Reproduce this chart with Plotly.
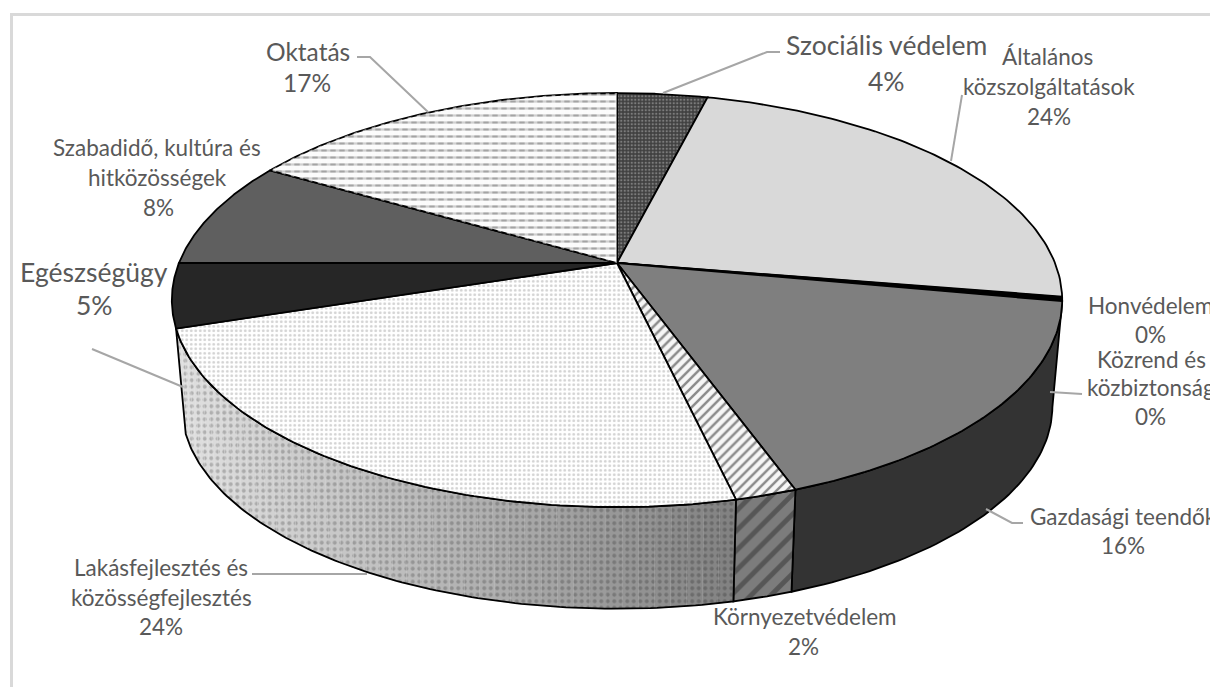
import numpy as np
import plotly.graph_objects as go

# ---- data ----
categories = ["Szociális védelem", "Általános közszolgáltatások", "Honvédelem", "Közrend és közbiztonság",
              "Gazdasági teendők", "Környezetvédelem", "Lakásfejlesztés és közösségfejlesztés",
              "Egészségügy", "Szabadidő, kultúra és hitközösségek", "Oktatás"]
values = [3.9, 23.7, 0.3, 0.05, 16.55, 1.9, 23.6, 5.0, 8.4, 16.6]
percent_labels = ["4%", "24%", "0%", "0%", "16%", "2%", "24%", "5%", "8%", "17%"]

# ---- styling per slice ----
top_styles = [
    dict(bg="#404040", shape=".", fg="#7c7c7c", size=3.5, sol=0.35),
    dict(bg="#d9d9d9"),
    dict(bg="#000000"),
    dict(bg="#000000"),
    dict(bg="#7f7f7f"),
    dict(bg="#f6f6f6", shape="/", fg="#8a8a8a", size=7, sol=0.35),
    dict(bg="#ffffff", shape=".", fg="#d2d2d2", size=4.5, sol=0.3),
    dict(bg="#262626"),
    dict(bg="#5f5f5f"),
    dict(bg="#fbfbfb", shape="-", fg="#a4a4a4", size=7, sol=0.32, over=dict(shape="|", fg="#fbfbfb", size=9, sol=0.4)),
]
side_styles = [
    None, None, None, None,
    dict(bg="#333333"),
    dict(bg="#7c7c7c", shape="/", fg="#565656", size=14, sol=0.35),
    "gradient", None, None, None,
]

# ---- projection of the 3D disc (screen pixels) ----
CX, CY_TOP, CY_BOT = 617.0, 263.0, 370.0
RX, B, K, SCALE_BOT = 438.0, 200.4, 0.179, 0.978


def project(t, bottom=False):
    X, Y = np.sin(t), -np.cos(t)
    w = 1 - K * Y
    s = SCALE_BOT if bottom else 1.0
    cy = CY_BOT if bottom else CY_TOP
    return CX + s * RX * X / w, cy + s * B * Y / w


fig = go.Figure()


def add_poly(x, y, style, line_color="#000000", line_width=1.5):
    kw = dict(x=x, y=y, mode="lines", fill="toself", showlegend=False, hoverinfo="skip",
              line=dict(color=line_color, width=line_width), fillcolor=style["bg"])
    if "shape" in style:
        kw["fillpattern"] = dict(shape=style["shape"], fgcolor=style["fg"], bgcolor=style["bg"],
                                 size=style["size"], solidity=style["sol"], fillmode="replace")
    fig.add_trace(go.Scatter(**kw))
    if "over" in style:
        o = style["over"]
        fig.add_trace(go.Scatter(x=x, y=y, mode="lines", fill="toself", showlegend=False, hoverinfo="skip",
                                 line=dict(color="rgba(0,0,0,0)", width=0), fillcolor="rgba(0,0,0,0)",
                                 fillpattern=dict(shape=o["shape"], fgcolor=o["fg"], bgcolor="rgba(0,0,0,0)",
                                                  size=o["size"], solidity=o["sol"], fillmode="overlay")))


edges = np.cumsum([0] + values) / sum(values) * 2 * np.pi
T_RIGHT = np.pi - np.arccos(K)        # right tangent of the rim
T_LEFT = np.pi + np.arccos(K)         # left tangent of the rim

# ---- side wall ----
for i, side in enumerate(side_styles):
    if side is None:
        continue
    a, b = max(edges[i], T_RIGHT), min(edges[i + 1], T_LEFT)
    if b <= a:
        continue
    if side == "gradient":
        n = 48
        cuts = np.linspace(b, a, n + 1)  # from left (light) to right (dark)
        for j in range(n):
            f = (j / (n - 1)) ** 1.7
            g = int(224 - (224 - 130) * f)
            d = int(g * 0.8)
            col = f"rgb({g},{g},{g})"
            ts = np.linspace(cuts[j], cuts[j + 1], 6)
            tx, ty = project(ts)
            bx, by = project(ts[::-1], True)
            add_poly(np.r_[tx, bx], np.r_[ty, by],
                     dict(bg=col, shape=".", fg=f"rgb({d},{d},{d})", size=6.5, sol=0.3),
                     line_color=col, line_width=0.6)
        ts = np.linspace(a, b, 120)
        tx, ty = project(ts)
        bx, by = project(ts[::-1], True)
        fig.add_trace(go.Scatter(x=np.r_[tx, bx, tx[0]], y=np.r_[ty, by, ty[0]], mode="lines", showlegend=False,
                                 hoverinfo="skip", line=dict(color="#000000", width=1.8)))
    else:
        ts = np.linspace(a, b, 60)
        tx, ty = project(ts)
        bx, by = project(ts[::-1], True)
        add_poly(np.r_[tx, bx, tx[0]], np.r_[ty, by, ty[0]], side, line_width=1.8)

# ---- top face ----
for i, st in enumerate(top_styles):
    ts = np.linspace(edges[i], edges[i + 1], 90)
    ax, ay = project(ts)
    add_poly(np.r_[CX, ax, CX], np.r_[CY_TOP, ay, CY_TOP], st, line_width=1.8)

# ---- leader lines ----
leaders = [
    ([357, 370, 428], [57, 57, 112]),
    ([780, 767, 663], [52, 52, 93]),
    ([962, 951], [95, 161]),
    ([1050, 1082], [392, 394]),
    ([1023, 1012, 986], [523, 523, 509]),
    ([252, 367], [574, 574]),
    ([92, 183], [349, 387]),
]
for lx, ly in leaders:
    fig.add_trace(go.Scatter(x=lx, y=ly, mode="lines", showlegend=False, hoverinfo="skip",
                             line=dict(color="#a6a6a6", width=2)))

# ---- labels: (text, centre x, centre y, font size) ----
SMALL, BIG, MID = 22.5, 26.5, 24.5
labels = [
    ("Oktatás", 308, 51, MID), (percent_labels[9], 307, 82, MID),
    ("Szociális védelem", 886, 45, BIG), (percent_labels[0], 886, 81, BIG),
    ("Általános", 1047, 56, SMALL), ("közszolgáltatások", 1049, 86, SMALL), (percent_labels[1], 1049, 116, SMALL),
    ("Honvédelem", 1150, 305, SMALL), (percent_labels[2], 1150, 334, SMALL),
    ("Közrend és", 1151, 359, SMALL), ("közbiztonság", 1151, 387, SMALL), (percent_labels[3], 1150, 416, SMALL),
    ("Gazdasági teendők", 1123, 516, SMALL), (percent_labels[4], 1123, 545, SMALL),
    ("Környezetvédelem", 805, 616, SMALL), (percent_labels[5], 803, 646, SMALL),
    ("Lakásfejlesztés és", 161, 567, SMALL), ("közösségfejlesztés", 161, 597, SMALL), (percent_labels[6], 161, 626, SMALL),
    ("Szabadidő, kultúra és", 157, 147, SMALL), ("hitközösségek", 157, 177, SMALL), (percent_labels[8], 158, 207, SMALL),
    ("Egészségügy", 94, 272, BIG), (percent_labels[7], 94, 305, BIG),
]
annotations = [dict(x=x, y=y, text=t, showarrow=False, xanchor="center", yanchor="middle",
                    font=dict(family="Lato", size=s, color="#595959")) for t, x, y, s in labels]

fig.update_layout(
    width=1210, height=687, margin=dict(l=0, r=0, t=0, b=0),
    paper_bgcolor="#ffffff", plot_bgcolor="#ffffff",
    xaxis=dict(range=[0, 1210], visible=False, fixedrange=True),
    yaxis=dict(range=[687, 0], visible=False, fixedrange=True),
    annotations=annotations,
    shapes=[dict(type="rect", x0=11.5, y0=14.5, x1=1400, y1=900, line=dict(color="#d9d9d9", width=3), layer="below")],
)
fig.write_html("out.html", post_script="document.body.style.margin='0';document.body.style.overflow='hidden';",
               config={"displayModeBar": False})
